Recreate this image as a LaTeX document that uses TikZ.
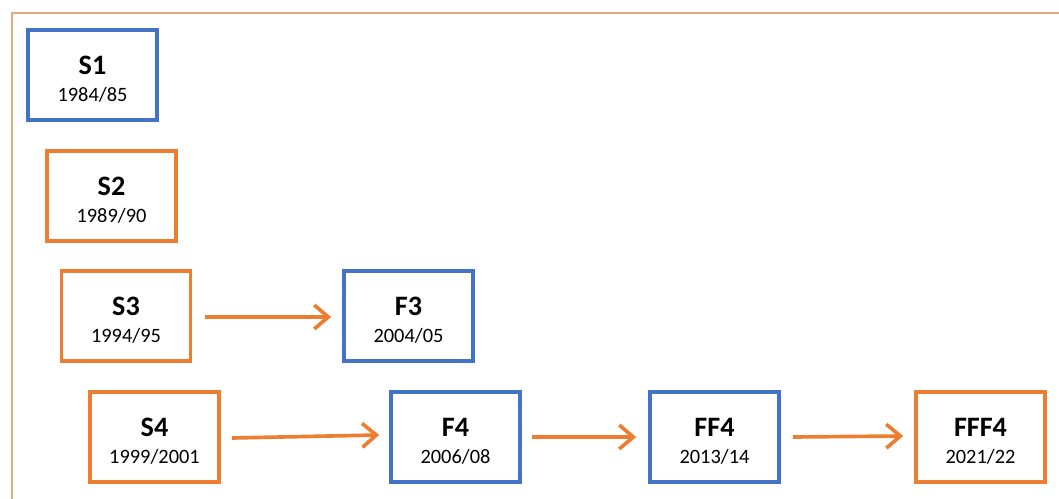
\documentclass[tikz,border=0pt]{standalone}
\usepackage{fontspec}
\setmainfont{Carlito}
\usetikzlibrary{arrows.meta,calc}

\definecolor{boxblue}{RGB}{68,114,196}
\definecolor{boxorange}{RGB}{237,125,49}
\definecolor{frameorange}{RGB}{228,168,125}

\tikzset{
  stage/.style={draw, line width=2.6pt, minimum width=3.225cm, minimum height=2.25cm,
    align=center, inner sep=0pt, font=\fontsize{14.5}{20}\selectfont},
  bluestage/.style={stage, draw=boxblue},
  orangestage/.style={stage, draw=boxorange},
  flow/.style={draw=boxorange, line width=2.6pt,
    -{Straight Barb[length=10pt,width=17pt,line width=2.6pt]}}
}
% bold name over the year; the strut pushes the text a bit down
\newcommand{\stagetext}[2]{\rule{0pt}{19pt}{\fontsize{20}{20}\selectfont\bfseries #1}\\[-1pt]#2}

\begin{document}
\begin{tikzpicture}[x=0.025cm, y=-0.025cm]

  \useasboundingbox (0,0) rectangle (1059,499);

  % frame, only top and left edges show
  \draw[frameorange, line width=1pt] (12,499) -- (12,13) -- (1059,13);

  % first column
  \node[bluestage]   (S1) at (92.5,75)  {\stagetext{S1}{1984/85}};
  \node[orangestage] (S2) at (111.5,196) {\stagetext{S2}{1989/90}};
  \node[orangestage] (S3) at (126,316)  {\stagetext{S3}{1994/95}};
  \node[orangestage] (S4) at (154.5,437) {\stagetext{S4}{1999/2001}};

  % follow-ups
  \node[bluestage]   (F3)   at (408.5,316) {\stagetext{F3}{2004/05}};
  \node[bluestage]   (F4)   at (455.5,437) {\stagetext{F4}{2006/08}};
  \node[bluestage]   (FF4)  at (714.5,437) {\stagetext{FF4}{2013/14}};
  \node[orangestage] (FFF4) at (980.5,437) {\stagetext{FFF4}{2021/22}};

  \draw[flow] ($(S3.east)+(13,1)$) -- ($(F3.west)+(-11,1)$);
  \draw[flow] ($(S4.east)+(11,1)$) -- ($(F4.west)+(-10,-2)$);
  \draw[flow] ($(F4.east)+(10,0)$) -- ($(FF4.west)+(-12,0)$);
  \draw[flow] ($(FF4.east)+(12,0)$) -- ($(FFF4.west)+(-11,-1)$);
\end{tikzpicture}
\end{document}
